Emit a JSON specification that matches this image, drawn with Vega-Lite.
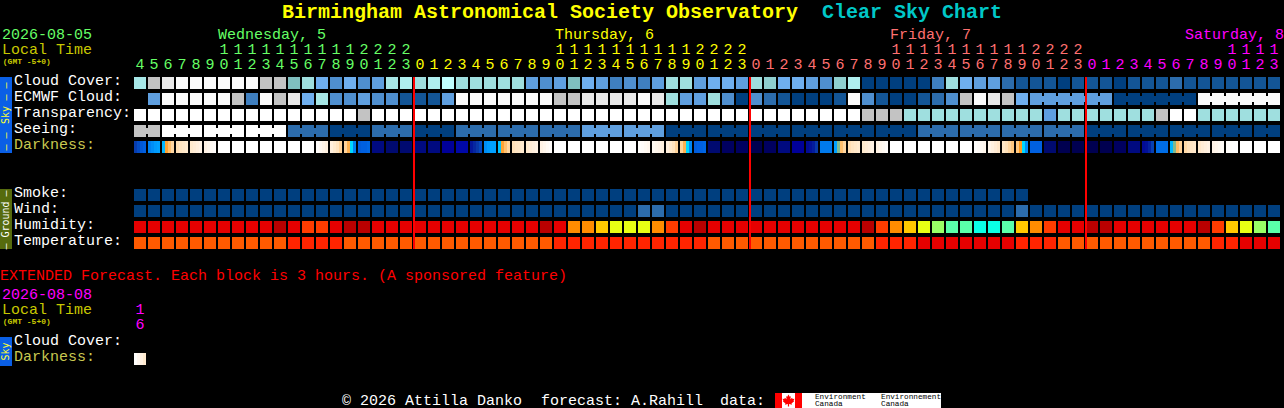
{"$schema":"https://vega.github.io/schema/vega-lite/v6.json","width":1284,"height":408,"padding":0,"autosize":{"type":"none"},"background":"#000000","config":{"view":{"stroke":null}},
"datasets":{
"bands":[{"col":-10,"col2":-9.1429,"row":-0.375,"row2":4.375,"part":"sky"},{"col":-10,"col2":-9.1429,"row":6.625,"row2":10.375,"part":"ground"},{"col":-10,"col2":-9.1429,"row":15.875,"row2":17.6875,"part":"sky"},{"col":45.357,"col2":47.286,"row":19.375,"row2":20.3125,"part":"flag"},{"col":45.857,"col2":46.786,"row":19.375,"row2":20.3125,"part":"logo"},{"col":47.286,"col2":57.214,"row":19.375,"row2":20.3125,"part":"logo"}],
"cells":[
{"row":0,"col":0,"level":"t4"},{"row":0,"col":1,"level":"g1"},{"row":0,"col":2,"level":"g2"},{"row":0,"col":3,"level":"w"},{"row":0,"col":4,"level":"w"},{"row":0,"col":5,"level":"w"},{"row":0,"col":6,"level":"w"},{"row":0,"col":7,"level":"w"},{"row":0,"col":8,"level":"w"},{"row":0,"col":9,"level":"g1"},{"row":0,"col":10,"level":"g1"},{"row":0,"col":11,"level":"t1"},{"row":0,"col":12,"level":"t3"},{"row":0,"col":13,"level":"n6"},{"row":0,"col":14,"level":"n4"},{"row":0,"col":15,"level":"n6"},{"row":0,"col":16,"level":"n4"},{"row":0,"col":17,"level":"n5"},{"row":0,"col":18,"level":"t4"},{"row":0,"col":19,"level":"t5"},{"row":0,"col":20,"level":"t3"},{"row":0,"col":21,"level":"t5"},{"row":0,"col":22,"level":"t6"},{"row":0,"col":23,"level":"t3"},{"row":0,"col":24,"level":"t3"},{"row":0,"col":25,"level":"t3"},{"row":0,"col":26,"level":"t3"},{"row":0,"col":27,"level":"t3"},{"row":0,"col":28,"level":"n5"},{"row":0,"col":29,"level":"n4"},{"row":0,"col":30,"level":"n5"},{"row":0,"col":31,"level":"t1"},{"row":0,"col":32,"level":"n6"},{"row":0,"col":33,"level":"n5"},{"row":0,"col":34,"level":"n3"},{"row":0,"col":35,"level":"n4"},{"row":0,"col":36,"level":"n3"},{"row":0,"col":37,"level":"n5"},{"row":0,"col":38,"level":"t3"},{"row":0,"col":39,"level":"t3"},{"row":0,"col":40,"level":"n5"},{"row":0,"col":41,"level":"n6"},{"row":0,"col":42,"level":"n6"},{"row":0,"col":43,"level":"n5"},{"row":0,"col":44,"level":"t3"},{"row":0,"col":45,"level":"t2"},{"row":0,"col":46,"level":"n6"},{"row":0,"col":47,"level":"n6"},{"row":0,"col":48,"level":"n5"},{"row":0,"col":49,"level":"n4"},{"row":0,"col":50,"level":"t2"},{"row":0,"col":51,"level":"t5"},{"row":0,"col":52,"level":"n0"},{"row":0,"col":53,"level":"n0"},{"row":0,"col":54,"level":"n0"},{"row":0,"col":55,"level":"n0"},{"row":0,"col":56,"level":"n0"},{"row":0,"col":57,"level":"n3"},{"row":0,"col":58,"level":"t3"},{"row":0,"col":59,"level":"n6"},{"row":0,"col":60,"level":"n5"},{"row":0,"col":61,"level":"n5"},{"row":0,"col":62,"level":"n2"},{"row":0,"col":63,"level":"n1"},{"row":0,"col":64,"level":"n1"},{"row":0,"col":65,"level":"n1"},{"row":0,"col":66,"level":"n0"},{"row":0,"col":67,"level":"n1"},{"row":0,"col":68,"level":"n1"},{"row":0,"col":69,"level":"n1"},{"row":0,"col":70,"level":"n0"},{"row":0,"col":71,"level":"n1"},{"row":0,"col":72,"level":"n1"},{"row":0,"col":73,"level":"n1"},{"row":0,"col":74,"level":"n2"},{"row":0,"col":75,"level":"n1"},{"row":0,"col":76,"level":"n1"},{"row":0,"col":77,"level":"n1"},{"row":0,"col":78,"level":"n1"},{"row":0,"col":79,"level":"n1"},{"row":0,"col":80,"level":"n1"},{"row":0,"col":81,"level":"n1"},
{"row":1,"col":1,"level":"n5"},{"row":1,"col":2,"level":"w"},{"row":1,"col":3,"level":"w"},{"row":1,"col":4,"level":"w"},{"row":1,"col":5,"level":"w"},{"row":1,"col":6,"level":"w"},{"row":1,"col":7,"level":"g1"},{"row":1,"col":8,"level":"n3"},{"row":1,"col":9,"level":"w"},{"row":1,"col":10,"level":"g1"},{"row":1,"col":11,"level":"g2"},{"row":1,"col":12,"level":"n6"},{"row":1,"col":13,"level":"t4"},{"row":1,"col":14,"level":"n4"},{"row":1,"col":15,"level":"n4"},{"row":1,"col":16,"level":"n5"},{"row":1,"col":17,"level":"n4"},{"row":1,"col":18,"level":"n4"},{"row":1,"col":19,"level":"n1"},{"row":1,"col":20,"level":"n1"},{"row":1,"col":21,"level":"n1"},{"row":1,"col":22,"level":"n5"},{"row":1,"col":23,"level":"w"},{"row":1,"col":24,"level":"w"},{"row":1,"col":25,"level":"w"},{"row":1,"col":26,"level":"w"},{"row":1,"col":27,"level":"w"},{"row":1,"col":28,"level":"w"},{"row":1,"col":29,"level":"w"},{"row":1,"col":30,"level":"g1"},{"row":1,"col":31,"level":"g1"},{"row":1,"col":32,"level":"g2"},{"row":1,"col":33,"level":"g2"},{"row":1,"col":34,"level":"g2"},{"row":1,"col":35,"level":"g2"},{"row":1,"col":36,"level":"w"},{"row":1,"col":37,"level":"g2"},{"row":1,"col":38,"level":"t3"},{"row":1,"col":39,"level":"n5"},{"row":1,"col":40,"level":"n5"},{"row":1,"col":41,"level":"t3"},{"row":1,"col":42,"level":"n4"},{"row":1,"col":43,"level":"n0"},{"row":1,"col":44,"level":"n4"},{"row":1,"col":45,"level":"n2"},{"row":1,"col":46,"level":"n1"},{"row":1,"col":47,"level":"n0"},{"row":1,"col":48,"level":"n0"},{"row":1,"col":49,"level":"n0"},{"row":1,"col":50,"level":"n1"},{"row":1,"col":51,"level":"w"},{"row":1,"col":52,"level":"n4"},{"row":1,"col":53,"level":"n1"},{"row":1,"col":54,"level":"n0"},{"row":1,"col":55,"level":"n0"},{"row":1,"col":56,"level":"n1"},{"row":1,"col":57,"level":"n2"},{"row":1,"col":58,"level":"n4"},{"row":1,"col":59,"level":"g1"},{"row":1,"col":60,"level":"w"},{"row":1,"col":61,"level":"g2"},{"row":1,"col":62,"level":"g1"},{"row":1,"col":63,"level":"n6"},{"row":1,"col":64,"level":"n5"},{"row":1,"col":65,"level":"n5"},{"row":1,"col":66,"level":"n5"},{"row":1,"col":67,"level":"n5"},{"row":1,"col":68,"level":"n5"},{"row":1,"col":69,"level":"n5"},{"row":1,"col":70,"level":"n0"},{"row":1,"col":71,"level":"n0"},{"row":1,"col":72,"level":"n0"},{"row":1,"col":73,"level":"n0"},{"row":1,"col":74,"level":"n0"},{"row":1,"col":75,"level":"n0"},{"row":1,"col":76,"level":"w"},{"row":1,"col":77,"level":"w"},{"row":1,"col":78,"level":"w"},{"row":1,"col":79,"level":"w"},{"row":1,"col":80,"level":"w"},{"row":1,"col":81,"level":"w"},
{"row":2,"col":0,"level":"W"},{"row":2,"col":1,"level":"W"},{"row":2,"col":2,"level":"W"},{"row":2,"col":3,"level":"W"},{"row":2,"col":4,"level":"W"},{"row":2,"col":5,"level":"W"},{"row":2,"col":6,"level":"W"},{"row":2,"col":7,"level":"W"},{"row":2,"col":8,"level":"W"},{"row":2,"col":9,"level":"W"},{"row":2,"col":10,"level":"W"},{"row":2,"col":11,"level":"W"},{"row":2,"col":12,"level":"W"},{"row":2,"col":13,"level":"W"},{"row":2,"col":14,"level":"W"},{"row":2,"col":15,"level":"W"},{"row":2,"col":16,"level":"g1"},{"row":2,"col":17,"level":"W"},{"row":2,"col":18,"level":"W"},{"row":2,"col":19,"level":"W"},{"row":2,"col":20,"level":"W"},{"row":2,"col":21,"level":"W"},{"row":2,"col":22,"level":"W"},{"row":2,"col":23,"level":"W"},{"row":2,"col":24,"level":"W"},{"row":2,"col":25,"level":"W"},{"row":2,"col":26,"level":"W"},{"row":2,"col":27,"level":"W"},{"row":2,"col":28,"level":"W"},{"row":2,"col":29,"level":"W"},{"row":2,"col":30,"level":"W"},{"row":2,"col":31,"level":"W"},{"row":2,"col":32,"level":"W"},{"row":2,"col":33,"level":"W"},{"row":2,"col":34,"level":"W"},{"row":2,"col":35,"level":"W"},{"row":2,"col":36,"level":"W"},{"row":2,"col":37,"level":"W"},{"row":2,"col":38,"level":"W"},{"row":2,"col":39,"level":"W"},{"row":2,"col":40,"level":"W"},{"row":2,"col":41,"level":"W"},{"row":2,"col":42,"level":"W"},{"row":2,"col":43,"level":"W"},{"row":2,"col":44,"level":"W"},{"row":2,"col":45,"level":"W"},{"row":2,"col":46,"level":"W"},{"row":2,"col":47,"level":"W"},{"row":2,"col":48,"level":"W"},{"row":2,"col":49,"level":"W"},{"row":2,"col":50,"level":"W"},{"row":2,"col":51,"level":"W"},{"row":2,"col":52,"level":"g1"},{"row":2,"col":53,"level":"g1"},{"row":2,"col":54,"level":"g1"},{"row":2,"col":55,"level":"t3"},{"row":2,"col":56,"level":"t3"},{"row":2,"col":57,"level":"t3"},{"row":2,"col":58,"level":"t3"},{"row":2,"col":59,"level":"t3"},{"row":2,"col":60,"level":"t3"},{"row":2,"col":61,"level":"t3"},{"row":2,"col":62,"level":"t3"},{"row":2,"col":63,"level":"t3"},{"row":2,"col":64,"level":"t3"},{"row":2,"col":65,"level":"n5"},{"row":2,"col":66,"level":"t3"},{"row":2,"col":67,"level":"t3"},{"row":2,"col":68,"level":"t3"},{"row":2,"col":69,"level":"t3"},{"row":2,"col":70,"level":"t3"},{"row":2,"col":71,"level":"t3"},{"row":2,"col":72,"level":"t3"},{"row":2,"col":73,"level":"g1"},{"row":2,"col":74,"level":"W"},{"row":2,"col":75,"level":"W"},{"row":2,"col":76,"level":"t3"},{"row":2,"col":77,"level":"t3"},{"row":2,"col":78,"level":"t3"},{"row":2,"col":79,"level":"t3"},{"row":2,"col":80,"level":"t3"},{"row":2,"col":81,"level":"t3"},
{"row":3,"col":0,"level":"g1"},{"row":3,"col":1,"level":"g1"},{"row":3,"col":2,"level":"W"},{"row":3,"col":3,"level":"W"},{"row":3,"col":4,"level":"W"},{"row":3,"col":5,"level":"W"},{"row":3,"col":6,"level":"W"},{"row":3,"col":7,"level":"W"},{"row":3,"col":8,"level":"W"},{"row":3,"col":9,"level":"W"},{"row":3,"col":10,"level":"W"},{"row":3,"col":11,"level":"n2"},{"row":3,"col":12,"level":"n2"},{"row":3,"col":13,"level":"n2"},{"row":3,"col":14,"level":"n0"},{"row":3,"col":15,"level":"n0"},{"row":3,"col":16,"level":"n0"},{"row":3,"col":17,"level":"n2"},{"row":3,"col":18,"level":"n2"},{"row":3,"col":19,"level":"n2"},{"row":3,"col":20,"level":"n0"},{"row":3,"col":21,"level":"n0"},{"row":3,"col":22,"level":"n0"},{"row":3,"col":23,"level":"n2"},{"row":3,"col":24,"level":"n2"},{"row":3,"col":25,"level":"n2"},{"row":3,"col":26,"level":"n2"},{"row":3,"col":27,"level":"n2"},{"row":3,"col":28,"level":"n2"},{"row":3,"col":29,"level":"n2"},{"row":3,"col":30,"level":"n2"},{"row":3,"col":31,"level":"n2"},{"row":3,"col":32,"level":"n5"},{"row":3,"col":33,"level":"n5"},{"row":3,"col":34,"level":"n5"},{"row":3,"col":35,"level":"n5"},{"row":3,"col":36,"level":"n5"},{"row":3,"col":37,"level":"n5"},{"row":3,"col":38,"level":"n0"},{"row":3,"col":39,"level":"n0"},{"row":3,"col":40,"level":"n0"},{"row":3,"col":41,"level":"n0"},{"row":3,"col":42,"level":"n0"},{"row":3,"col":43,"level":"n0"},{"row":3,"col":44,"level":"n0"},{"row":3,"col":45,"level":"n0"},{"row":3,"col":46,"level":"n0"},{"row":3,"col":47,"level":"n0"},{"row":3,"col":48,"level":"n0"},{"row":3,"col":49,"level":"n0"},{"row":3,"col":50,"level":"n0"},{"row":3,"col":51,"level":"n0"},{"row":3,"col":52,"level":"n0"},{"row":3,"col":53,"level":"n0"},{"row":3,"col":54,"level":"n0"},{"row":3,"col":55,"level":"n0"},{"row":3,"col":56,"level":"n2"},{"row":3,"col":57,"level":"n2"},{"row":3,"col":58,"level":"n2"},{"row":3,"col":59,"level":"n2"},{"row":3,"col":60,"level":"n2"},{"row":3,"col":61,"level":"n2"},{"row":3,"col":62,"level":"n2"},{"row":3,"col":63,"level":"n2"},{"row":3,"col":64,"level":"n2"},{"row":3,"col":65,"level":"n2"},{"row":3,"col":66,"level":"n2"},{"row":3,"col":67,"level":"n2"},{"row":3,"col":68,"level":"n0"},{"row":3,"col":69,"level":"n0"},{"row":3,"col":70,"level":"n0"},{"row":3,"col":71,"level":"n0"},{"row":3,"col":72,"level":"n0"},{"row":3,"col":73,"level":"n0"},{"row":3,"col":74,"level":"n0"},{"row":3,"col":75,"level":"n0"},{"row":3,"col":76,"level":"n0"},{"row":3,"col":77,"level":"n0"},{"row":3,"col":78,"level":"n0"},{"row":3,"col":79,"level":"n0"},{"row":3,"col":80,"level":"n0"},{"row":3,"col":81,"level":"n0"},
{"row":4,"col":6,"level":"W"},{"row":4,"col":7,"level":"W"},{"row":4,"col":8,"level":"W"},{"row":4,"col":9,"level":"W"},{"row":4,"col":10,"level":"W"},{"row":4,"col":11,"level":"W"},{"row":4,"col":12,"level":"W"},{"row":4,"col":17,"level":"d3"},{"row":4,"col":18,"level":"d2"},{"row":4,"col":19,"level":"d2"},{"row":4,"col":20,"level":"d3"},{"row":4,"col":21,"level":"d3"},{"row":4,"col":22,"level":"d4"},{"row":4,"col":23,"level":"d5"},{"row":4,"col":30,"level":"W"},{"row":4,"col":31,"level":"W"},{"row":4,"col":32,"level":"W"},{"row":4,"col":33,"level":"W"},{"row":4,"col":34,"level":"W"},{"row":4,"col":35,"level":"W"},{"row":4,"col":41,"level":"d2"},{"row":4,"col":42,"level":"d1"},{"row":4,"col":43,"level":"d1"},{"row":4,"col":44,"level":"d0"},{"row":4,"col":45,"level":"d1"},{"row":4,"col":46,"level":"d3"},{"row":4,"col":47,"level":"d4"},{"row":4,"col":54,"level":"W"},{"row":4,"col":55,"level":"W"},{"row":4,"col":56,"level":"W"},{"row":4,"col":57,"level":"W"},{"row":4,"col":58,"level":"W"},{"row":4,"col":59,"level":"W"},{"row":4,"col":65,"level":"d2"},{"row":4,"col":66,"level":"d0"},{"row":4,"col":67,"level":"d0"},{"row":4,"col":68,"level":"d0"},{"row":4,"col":69,"level":"d0"},{"row":4,"col":70,"level":"d1"},{"row":4,"col":71,"level":"d3"},{"row":4,"col":79,"level":"W"},{"row":4,"col":80,"level":"W"},{"row":4,"col":81,"level":"W"},
{"row":7,"col":0,"level":"n0"},{"row":7,"col":1,"level":"n0"},{"row":7,"col":2,"level":"n0"},{"row":7,"col":3,"level":"n0"},{"row":7,"col":4,"level":"n0"},{"row":7,"col":5,"level":"n0"},{"row":7,"col":6,"level":"n0"},{"row":7,"col":7,"level":"n0"},{"row":7,"col":8,"level":"n0"},{"row":7,"col":9,"level":"n0"},{"row":7,"col":10,"level":"n0"},{"row":7,"col":11,"level":"n0"},{"row":7,"col":12,"level":"n0"},{"row":7,"col":13,"level":"n0"},{"row":7,"col":14,"level":"n0"},{"row":7,"col":15,"level":"n0"},{"row":7,"col":16,"level":"n0"},{"row":7,"col":17,"level":"n0"},{"row":7,"col":18,"level":"n0"},{"row":7,"col":19,"level":"n0"},{"row":7,"col":20,"level":"n0"},{"row":7,"col":21,"level":"n0"},{"row":7,"col":22,"level":"n0"},{"row":7,"col":23,"level":"n0"},{"row":7,"col":24,"level":"n0"},{"row":7,"col":25,"level":"n0"},{"row":7,"col":26,"level":"n0"},{"row":7,"col":27,"level":"n0"},{"row":7,"col":28,"level":"n0"},{"row":7,"col":29,"level":"n0"},{"row":7,"col":30,"level":"n0"},{"row":7,"col":31,"level":"n0"},{"row":7,"col":32,"level":"n0"},{"row":7,"col":33,"level":"n0"},{"row":7,"col":34,"level":"n0"},{"row":7,"col":35,"level":"n0"},{"row":7,"col":36,"level":"n0"},{"row":7,"col":37,"level":"n0"},{"row":7,"col":38,"level":"n0"},{"row":7,"col":39,"level":"n0"},{"row":7,"col":40,"level":"n0"},{"row":7,"col":41,"level":"n0"},{"row":7,"col":42,"level":"n0"},{"row":7,"col":43,"level":"n0"},{"row":7,"col":44,"level":"n0"},{"row":7,"col":45,"level":"n0"},{"row":7,"col":46,"level":"n0"},{"row":7,"col":47,"level":"n0"},{"row":7,"col":48,"level":"n0"},{"row":7,"col":49,"level":"n0"},{"row":7,"col":50,"level":"n0"},{"row":7,"col":51,"level":"n0"},{"row":7,"col":52,"level":"n0"},{"row":7,"col":53,"level":"n0"},{"row":7,"col":54,"level":"n0"},{"row":7,"col":55,"level":"n0"},{"row":7,"col":56,"level":"n0"},{"row":7,"col":57,"level":"n0"},{"row":7,"col":58,"level":"n0"},{"row":7,"col":59,"level":"n0"},{"row":7,"col":60,"level":"n0"},{"row":7,"col":61,"level":"n0"},{"row":7,"col":62,"level":"n0"},{"row":7,"col":63,"level":"n0"},
{"row":8,"col":0,"level":"n0"},{"row":8,"col":1,"level":"n0"},{"row":8,"col":2,"level":"n0"},{"row":8,"col":3,"level":"n0"},{"row":8,"col":4,"level":"n0"},{"row":8,"col":5,"level":"n0"},{"row":8,"col":6,"level":"n0"},{"row":8,"col":7,"level":"n0"},{"row":8,"col":8,"level":"n0"},{"row":8,"col":9,"level":"n0"},{"row":8,"col":10,"level":"n0"},{"row":8,"col":11,"level":"n0"},{"row":8,"col":12,"level":"n0"},{"row":8,"col":13,"level":"n0"},{"row":8,"col":14,"level":"n0"},{"row":8,"col":15,"level":"n0"},{"row":8,"col":16,"level":"n0"},{"row":8,"col":17,"level":"n0"},{"row":8,"col":18,"level":"n0"},{"row":8,"col":19,"level":"n0"},{"row":8,"col":20,"level":"n0"},{"row":8,"col":21,"level":"n0"},{"row":8,"col":22,"level":"n0"},{"row":8,"col":23,"level":"n0"},{"row":8,"col":24,"level":"n0"},{"row":8,"col":25,"level":"n0"},{"row":8,"col":26,"level":"n0"},{"row":8,"col":27,"level":"n0"},{"row":8,"col":28,"level":"n0"},{"row":8,"col":29,"level":"n0"},{"row":8,"col":30,"level":"n0"},{"row":8,"col":31,"level":"n0"},{"row":8,"col":32,"level":"n0"},{"row":8,"col":33,"level":"n0"},{"row":8,"col":34,"level":"n0"},{"row":8,"col":35,"level":"n0"},{"row":8,"col":36,"level":"n2"},{"row":8,"col":37,"level":"n2"},{"row":8,"col":38,"level":"n0"},{"row":8,"col":39,"level":"n0"},{"row":8,"col":40,"level":"n0"},{"row":8,"col":41,"level":"n0"},{"row":8,"col":42,"level":"n0"},{"row":8,"col":43,"level":"n0"},{"row":8,"col":44,"level":"n0"},{"row":8,"col":45,"level":"n0"},{"row":8,"col":46,"level":"n0"},{"row":8,"col":47,"level":"n0"},{"row":8,"col":48,"level":"n0"},{"row":8,"col":49,"level":"n0"},{"row":8,"col":50,"level":"n0"},{"row":8,"col":51,"level":"n0"},{"row":8,"col":52,"level":"n0"},{"row":8,"col":53,"level":"n0"},{"row":8,"col":54,"level":"n0"},{"row":8,"col":55,"level":"n0"},{"row":8,"col":56,"level":"n0"},{"row":8,"col":57,"level":"n0"},{"row":8,"col":58,"level":"n0"},{"row":8,"col":59,"level":"n0"},{"row":8,"col":60,"level":"n0"},{"row":8,"col":61,"level":"n0"},{"row":8,"col":62,"level":"n0"},{"row":8,"col":63,"level":"n2"},{"row":8,"col":64,"level":"n0"},{"row":8,"col":65,"level":"n0"},{"row":8,"col":66,"level":"n0"},{"row":8,"col":67,"level":"n0"},{"row":8,"col":68,"level":"n0"},{"row":8,"col":69,"level":"n0"},{"row":8,"col":70,"level":"n0"},{"row":8,"col":71,"level":"n0"},{"row":8,"col":72,"level":"n0"},{"row":8,"col":73,"level":"n0"},{"row":8,"col":74,"level":"n0"},{"row":8,"col":75,"level":"n0"},{"row":8,"col":76,"level":"n0"},{"row":8,"col":77,"level":"n0"},{"row":8,"col":78,"level":"n0"},{"row":8,"col":79,"level":"n0"},{"row":8,"col":80,"level":"n0"},{"row":8,"col":81,"level":"n0"},
{"row":9,"col":0,"level":"r2"},{"row":9,"col":1,"level":"r2"},{"row":9,"col":2,"level":"r2"},{"row":9,"col":3,"level":"r2"},{"row":9,"col":4,"level":"r2"},{"row":9,"col":5,"level":"r2"},{"row":9,"col":6,"level":"r2"},{"row":9,"col":7,"level":"r2"},{"row":9,"col":8,"level":"r2"},{"row":9,"col":9,"level":"r2"},{"row":9,"col":10,"level":"r1"},{"row":9,"col":11,"level":"r2"},{"row":9,"col":12,"level":"r4"},{"row":9,"col":13,"level":"r4"},{"row":9,"col":14,"level":"r2"},{"row":9,"col":15,"level":"r1"},{"row":9,"col":16,"level":"r1"},{"row":9,"col":17,"level":"r2"},{"row":9,"col":18,"level":"r2"},{"row":9,"col":19,"level":"r2"},{"row":9,"col":20,"level":"r2"},{"row":9,"col":21,"level":"r2"},{"row":9,"col":22,"level":"r2"},{"row":9,"col":23,"level":"r2"},{"row":9,"col":24,"level":"r2"},{"row":9,"col":25,"level":"r2"},{"row":9,"col":26,"level":"r2"},{"row":9,"col":27,"level":"r2"},{"row":9,"col":28,"level":"r2"},{"row":9,"col":29,"level":"r1"},{"row":9,"col":30,"level":"r2"},{"row":9,"col":31,"level":"r6"},{"row":9,"col":32,"level":"r6"},{"row":9,"col":33,"level":"y1"},{"row":9,"col":34,"level":"y2"},{"row":9,"col":35,"level":"y2"},{"row":9,"col":36,"level":"y2"},{"row":9,"col":37,"level":"r6"},{"row":9,"col":38,"level":"r4"},{"row":9,"col":39,"level":"r2"},{"row":9,"col":40,"level":"r1"},{"row":9,"col":41,"level":"r2"},{"row":9,"col":42,"level":"r2"},{"row":9,"col":43,"level":"r2"},{"row":9,"col":44,"level":"r2"},{"row":9,"col":45,"level":"r2"},{"row":9,"col":46,"level":"r2"},{"row":9,"col":47,"level":"r2"},{"row":9,"col":48,"level":"r2"},{"row":9,"col":49,"level":"r2"},{"row":9,"col":50,"level":"r2"},{"row":9,"col":51,"level":"r2"},{"row":9,"col":52,"level":"r1"},{"row":9,"col":53,"level":"r4"},{"row":9,"col":54,"level":"r6"},{"row":9,"col":55,"level":"y1"},{"row":9,"col":56,"level":"y2"},{"row":9,"col":57,"level":"g3"},{"row":9,"col":58,"level":"g4"},{"row":9,"col":59,"level":"g4"},{"row":9,"col":60,"level":"c1"},{"row":9,"col":61,"level":"c1"},{"row":9,"col":62,"level":"g4"},{"row":9,"col":63,"level":"y1"},{"row":9,"col":64,"level":"r6"},{"row":9,"col":65,"level":"r4"},{"row":9,"col":66,"level":"r2"},{"row":9,"col":67,"level":"r2"},{"row":9,"col":68,"level":"r1"},{"row":9,"col":69,"level":"r1"},{"row":9,"col":70,"level":"r2"},{"row":9,"col":71,"level":"r2"},{"row":9,"col":72,"level":"r2"},{"row":9,"col":73,"level":"r2"},{"row":9,"col":74,"level":"r2"},{"row":9,"col":75,"level":"r2"},{"row":9,"col":76,"level":"r1"},{"row":9,"col":77,"level":"r4"},{"row":9,"col":78,"level":"y1"},{"row":9,"col":79,"level":"y2"},{"row":9,"col":80,"level":"g3"},{"row":9,"col":81,"level":"g4"},
{"row":10,"col":0,"level":"r5"},{"row":10,"col":1,"level":"r5"},{"row":10,"col":2,"level":"r5"},{"row":10,"col":3,"level":"r5"},{"row":10,"col":4,"level":"r5"},{"row":10,"col":5,"level":"r5"},{"row":10,"col":6,"level":"r5"},{"row":10,"col":7,"level":"r5"},{"row":10,"col":8,"level":"r5"},{"row":10,"col":9,"level":"r5"},{"row":10,"col":10,"level":"r5"},{"row":10,"col":11,"level":"r3"},{"row":10,"col":12,"level":"r3"},{"row":10,"col":13,"level":"r3"},{"row":10,"col":14,"level":"r3"},{"row":10,"col":15,"level":"r5"},{"row":10,"col":16,"level":"r5"},{"row":10,"col":17,"level":"r5"},{"row":10,"col":18,"level":"r5"},{"row":10,"col":19,"level":"r5"},{"row":10,"col":20,"level":"r5"},{"row":10,"col":21,"level":"r5"},{"row":10,"col":22,"level":"r5"},{"row":10,"col":23,"level":"r5"},{"row":10,"col":24,"level":"r5"},{"row":10,"col":25,"level":"r5"},{"row":10,"col":26,"level":"r5"},{"row":10,"col":27,"level":"r5"},{"row":10,"col":28,"level":"r5"},{"row":10,"col":29,"level":"r5"},{"row":10,"col":30,"level":"r3"},{"row":10,"col":31,"level":"r3"},{"row":10,"col":32,"level":"r3"},{"row":10,"col":33,"level":"r3"},{"row":10,"col":34,"level":"r3"},{"row":10,"col":35,"level":"r3"},{"row":10,"col":36,"level":"r3"},{"row":10,"col":37,"level":"r3"},{"row":10,"col":38,"level":"r3"},{"row":10,"col":39,"level":"r3"},{"row":10,"col":40,"level":"r3"},{"row":10,"col":41,"level":"r5"},{"row":10,"col":42,"level":"r5"},{"row":10,"col":43,"level":"r5"},{"row":10,"col":44,"level":"r5"},{"row":10,"col":45,"level":"r5"},{"row":10,"col":46,"level":"r5"},{"row":10,"col":47,"level":"r5"},{"row":10,"col":48,"level":"r5"},{"row":10,"col":49,"level":"r5"},{"row":10,"col":50,"level":"r5"},{"row":10,"col":51,"level":"r5"},{"row":10,"col":52,"level":"r5"},{"row":10,"col":53,"level":"r3"},{"row":10,"col":54,"level":"r3"},{"row":10,"col":55,"level":"r3"},{"row":10,"col":56,"level":"r2"},{"row":10,"col":57,"level":"r2"},{"row":10,"col":58,"level":"r2"},{"row":10,"col":59,"level":"r2"},{"row":10,"col":60,"level":"r2"},{"row":10,"col":61,"level":"r2"},{"row":10,"col":62,"level":"r2"},{"row":10,"col":63,"level":"r3"},{"row":10,"col":64,"level":"r3"},{"row":10,"col":65,"level":"r3"},{"row":10,"col":66,"level":"r5"},{"row":10,"col":67,"level":"r5"},{"row":10,"col":68,"level":"r5"},{"row":10,"col":69,"level":"r5"},{"row":10,"col":70,"level":"r5"},{"row":10,"col":71,"level":"r5"},{"row":10,"col":72,"level":"r5"},{"row":10,"col":73,"level":"r5"},{"row":10,"col":74,"level":"r5"},{"row":10,"col":75,"level":"r5"},{"row":10,"col":76,"level":"r5"},{"row":10,"col":77,"level":"r3"},{"row":10,"col":78,"level":"r3"},{"row":10,"col":79,"level":"r2"},{"row":10,"col":80,"level":"r2"},{"row":10,"col":81,"level":"r2"}],
"links":[{"row":1,"col":64.5,"level":"n5"},{"row":1,"col":65.5,"level":"n5"},{"row":1,"col":66.5,"level":"n5"},{"row":1,"col":67.5,"level":"n5"},{"row":1,"col":68.5,"level":"n5"},{"row":1,"col":70.5,"level":"n0"},{"row":1,"col":71.5,"level":"n0"},{"row":1,"col":72.5,"level":"n0"},{"row":1,"col":73.5,"level":"n0"},{"row":1,"col":74.5,"level":"n0"},{"row":1,"col":76.5,"level":"w"},{"row":1,"col":77.5,"level":"w"},{"row":1,"col":78.5,"level":"w"},{"row":1,"col":79.5,"level":"w"},{"row":1,"col":80.5,"level":"w"},
{"row":3,"col":0.5,"level":"g1"},{"row":3,"col":2.5,"level":"W"},{"row":3,"col":3.5,"level":"W"},{"row":3,"col":5.5,"level":"W"},{"row":3,"col":6.5,"level":"W"},{"row":3,"col":8.5,"level":"W"},{"row":3,"col":9.5,"level":"W"},{"row":3,"col":11.5,"level":"n2"},{"row":3,"col":12.5,"level":"n2"},{"row":3,"col":14.5,"level":"n0"},{"row":3,"col":15.5,"level":"n0"},{"row":3,"col":17.5,"level":"n2"},{"row":3,"col":18.5,"level":"n2"},{"row":3,"col":20.5,"level":"n0"},{"row":3,"col":21.5,"level":"n0"},{"row":3,"col":23.5,"level":"n2"},{"row":3,"col":24.5,"level":"n2"},{"row":3,"col":26.5,"level":"n2"},{"row":3,"col":27.5,"level":"n2"},{"row":3,"col":29.5,"level":"n2"},{"row":3,"col":30.5,"level":"n2"},{"row":3,"col":32.5,"level":"n5"},{"row":3,"col":33.5,"level":"n5"},{"row":3,"col":35.5,"level":"n5"},{"row":3,"col":36.5,"level":"n5"},{"row":3,"col":38.5,"level":"n0"},{"row":3,"col":39.5,"level":"n0"},{"row":3,"col":41.5,"level":"n0"},{"row":3,"col":42.5,"level":"n0"},{"row":3,"col":44.5,"level":"n0"},{"row":3,"col":45.5,"level":"n0"},{"row":3,"col":47.5,"level":"n0"},{"row":3,"col":48.5,"level":"n0"},{"row":3,"col":50.5,"level":"n0"},{"row":3,"col":51.5,"level":"n0"},{"row":3,"col":53.5,"level":"n0"},{"row":3,"col":54.5,"level":"n0"},{"row":3,"col":56.5,"level":"n2"},{"row":3,"col":57.5,"level":"n2"},{"row":3,"col":59.5,"level":"n2"},{"row":3,"col":60.5,"level":"n2"},{"row":3,"col":62.5,"level":"n2"},{"row":3,"col":63.5,"level":"n2"},{"row":3,"col":65.5,"level":"n2"},{"row":3,"col":66.5,"level":"n2"},{"row":3,"col":68.5,"level":"n0"},{"row":3,"col":69.5,"level":"n0"},{"row":3,"col":71.5,"level":"n0"},{"row":3,"col":72.5,"level":"n0"},{"row":3,"col":74.5,"level":"n0"},{"row":3,"col":75.5,"level":"n0"},{"row":3,"col":77.5,"level":"n0"},{"row":3,"col":78.5,"level":"n0"},{"row":3,"col":80.5,"level":"n0"}],
"twilight":[
{"row":4,"col":-0.3214,"dark":7.9},{"row":4,"col":-0.1071,"dark":7.5},{"row":4,"col":0.1071,"dark":7.2},{"row":4,"col":0.3214,"dark":7},
{"row":4,"col":0.6786,"dark":6.5},{"row":4,"col":0.8929,"dark":6.3},{"row":4,"col":1.1071,"dark":6.1},{"row":4,"col":1.3214,"dark":6},
{"row":4,"col":1.6786,"dark":5.6},{"row":4,"col":1.8929,"dark":3.8},{"row":4,"col":2.1071,"dark":3.2},{"row":4,"col":2.3214,"dark":2.5},
{"row":4,"col":2.6786,"dark":2.2},{"row":4,"col":2.8929,"dark":2},{"row":4,"col":3.1071,"dark":1.8},{"row":4,"col":3.3214,"dark":1.6},
{"row":4,"col":3.6786,"dark":1.6},{"row":4,"col":3.8929,"dark":1.4},{"row":4,"col":4.1071,"dark":1.2},{"row":4,"col":4.3214,"dark":1},
{"row":4,"col":4.6786,"dark":1},{"row":4,"col":4.8929,"dark":0.7},{"row":4,"col":5.1071,"dark":0.4},{"row":4,"col":5.3214,"dark":0.2},
{"row":4,"col":12.6786,"dark":0.2},{"row":4,"col":12.8929,"dark":0.5},{"row":4,"col":13.1071,"dark":0.8},{"row":4,"col":13.3214,"dark":1.1},
{"row":4,"col":13.6786,"dark":1.2},{"row":4,"col":13.8929,"dark":1.6},{"row":4,"col":14.1071,"dark":2},{"row":4,"col":14.3214,"dark":2.6},
{"row":4,"col":14.6786,"dark":2.6},{"row":4,"col":14.8929,"dark":3.5},{"row":4,"col":15.1071,"dark":5},{"row":4,"col":15.3214,"dark":6.5},
{"row":4,"col":15.6786,"dark":7.1},{"row":4,"col":15.8929,"dark":7},{"row":4,"col":16.1071,"dark":7},{"row":4,"col":16.3214,"dark":6.9},
{"row":4,"col":23.6786,"dark":8.6},{"row":4,"col":23.8929,"dark":8.3},{"row":4,"col":24.1071,"dark":8},{"row":4,"col":24.3214,"dark":7.6},
{"row":4,"col":24.6786,"dark":6.3},{"row":4,"col":24.8929,"dark":6.1},{"row":4,"col":25.1071,"dark":6},{"row":4,"col":25.3214,"dark":6},
{"row":4,"col":25.6786,"dark":5.4},{"row":4,"col":25.8929,"dark":3.8},{"row":4,"col":26.1071,"dark":3.2},{"row":4,"col":26.3214,"dark":2.5},
{"row":4,"col":26.6786,"dark":2.1},{"row":4,"col":26.8929,"dark":1.9},{"row":4,"col":27.1071,"dark":1.8},{"row":4,"col":27.3214,"dark":1.6},
{"row":4,"col":27.6786,"dark":1.6},{"row":4,"col":27.8929,"dark":1.4},{"row":4,"col":28.1071,"dark":1.2},{"row":4,"col":28.3214,"dark":1},
{"row":4,"col":28.6786,"dark":1},{"row":4,"col":28.8929,"dark":0.7},{"row":4,"col":29.1071,"dark":0.4},{"row":4,"col":29.3214,"dark":0.2},
{"row":4,"col":35.6786,"dark":0.1},{"row":4,"col":35.8929,"dark":0.2},{"row":4,"col":36.1071,"dark":0.4},{"row":4,"col":36.3214,"dark":0.6},
{"row":4,"col":36.6786,"dark":0.5},{"row":4,"col":36.8929,"dark":0.7},{"row":4,"col":37.1071,"dark":0.9},{"row":4,"col":37.3214,"dark":1.1},
{"row":4,"col":37.6786,"dark":1.2},{"row":4,"col":37.8929,"dark":1.6},{"row":4,"col":38.1071,"dark":2},{"row":4,"col":38.3214,"dark":2.6},
{"row":4,"col":38.6786,"dark":2.6},{"row":4,"col":38.8929,"dark":3.5},{"row":4,"col":39.1071,"dark":5},{"row":4,"col":39.3214,"dark":6.4},
{"row":4,"col":39.6786,"dark":7.1},{"row":4,"col":39.8929,"dark":7},{"row":4,"col":40.1071,"dark":7},{"row":4,"col":40.3214,"dark":6.9},
{"row":4,"col":47.6786,"dark":8.8},{"row":4,"col":47.8929,"dark":8.7},{"row":4,"col":48.1071,"dark":8.5},{"row":4,"col":48.3214,"dark":8},
{"row":4,"col":48.6786,"dark":6.6},{"row":4,"col":48.8929,"dark":6.6},{"row":4,"col":49.1071,"dark":6.6},{"row":4,"col":49.3214,"dark":6.6},
{"row":4,"col":49.6786,"dark":6},{"row":4,"col":49.8929,"dark":4.5},{"row":4,"col":50.1071,"dark":3.2},{"row":4,"col":50.3214,"dark":2.5},
{"row":4,"col":50.6786,"dark":2.2},{"row":4,"col":50.8929,"dark":2},{"row":4,"col":51.1071,"dark":1.8},{"row":4,"col":51.3214,"dark":1.6},
{"row":4,"col":51.6786,"dark":1.6},{"row":4,"col":51.8929,"dark":1.4},{"row":4,"col":52.1071,"dark":1.2},{"row":4,"col":52.3214,"dark":1},
{"row":4,"col":52.6786,"dark":1},{"row":4,"col":52.8929,"dark":0.7},{"row":4,"col":53.1071,"dark":0.5},{"row":4,"col":53.3214,"dark":0.2},
{"row":4,"col":59.6786,"dark":0.1},{"row":4,"col":59.8929,"dark":0.3},{"row":4,"col":60.1071,"dark":0.5},{"row":4,"col":60.3214,"dark":0.7},
{"row":4,"col":60.6786,"dark":0.8},{"row":4,"col":60.8929,"dark":1.1},{"row":4,"col":61.1071,"dark":1.4},{"row":4,"col":61.3214,"dark":1.7},
{"row":4,"col":61.6786,"dark":1.8},{"row":4,"col":61.8929,"dark":2.1},{"row":4,"col":62.1071,"dark":2.5},{"row":4,"col":62.3214,"dark":3},
{"row":4,"col":62.6786,"dark":3},{"row":4,"col":62.8929,"dark":4},{"row":4,"col":63.1071,"dark":5},{"row":4,"col":63.3214,"dark":6.3},
{"row":4,"col":63.6786,"dark":7},{"row":4,"col":63.8929,"dark":7},{"row":4,"col":64.1071,"dark":7},{"row":4,"col":64.3214,"dark":7},
{"row":4,"col":71.6786,"dark":8.8},{"row":4,"col":71.8929,"dark":8.7},{"row":4,"col":72.1071,"dark":8.4},{"row":4,"col":72.3214,"dark":7.8},
{"row":4,"col":72.6786,"dark":6.8},{"row":4,"col":72.8929,"dark":6.8},{"row":4,"col":73.1071,"dark":6.8},{"row":4,"col":73.3214,"dark":6.8},
{"row":4,"col":73.6786,"dark":5.6},{"row":4,"col":73.8929,"dark":4.5},{"row":4,"col":74.1071,"dark":3.3},{"row":4,"col":74.3214,"dark":2.7},
{"row":4,"col":74.6786,"dark":2.4},{"row":4,"col":74.8929,"dark":2.1},{"row":4,"col":75.1071,"dark":1.9},{"row":4,"col":75.3214,"dark":1.7},
{"row":4,"col":75.6786,"dark":1.7},{"row":4,"col":75.8929,"dark":1.4},{"row":4,"col":76.1071,"dark":1.2},{"row":4,"col":76.3214,"dark":1},
{"row":4,"col":76.6786,"dark":0.9},{"row":4,"col":76.8929,"dark":0.7},{"row":4,"col":77.1071,"dark":0.5},{"row":4,"col":77.3214,"dark":0.3},
{"row":4,"col":77.6786,"dark":0.2},{"row":4,"col":77.8929,"dark":0.1},{"row":4,"col":78.1071,"dark":0},{"row":4,"col":78.3214,"dark":0},
{"row":17.25,"col":-0.3214,"dark":0.1},{"row":17.25,"col":-0.1071,"dark":0.6},{"row":17.25,"col":0.1071,"dark":1.1},{"row":17.25,"col":0.3214,"dark":1.6}],
"midnights":[{"col":19.5714,"row":-0.375,"row2":10.375},{"col":43.5714,"row":-0.375,"row2":10.375},{"col":67.5714,"row":-0.375,"row2":10.375}],
"labels":[
{"text":"2026-08-05","col":-9.857,"row":-3,"tone":"wed"},{"text":"Wednesday, 5","col":5.571,"row":-3,"tone":"wed"},{"text":"Thursday, 6","col":29.64,"row":-3,"tone":"thu"},{"text":"Friday, 7","col":53.57,"row":-3,"tone":"fri"},{"text":"Saturday, 8","col":74.64,"row":-3,"tone":"sat"},
{"text":"Local Time","col":-9.857,"row":-2.0625,"tone":"local"},
{"text":"Cloud Cover:","col":-9,"row":-0.1,"tone":"white"},{"text":"ECMWF Cloud:","col":-9,"row":0.9,"tone":"white"},{"text":"Transparency:","col":-9,"row":1.9,"tone":"white"},{"text":"Seeing:","col":-9,"row":2.9,"tone":"white"},{"text":"Darkness:","col":-9,"row":3.9,"tone":"dark"},
{"text":"Smoke:","col":-9,"row":6.9,"tone":"white"},{"text":"Wind:","col":-9,"row":7.9,"tone":"white"},{"text":"Humidity:","col":-9,"row":8.9,"tone":"white"},{"text":"Temperature:","col":-9,"row":9.9,"tone":"white"},
{"text":"EXTENDED Forecast. Each block is 3 hours. (A sponsored feature)","col":-10,"row":12.06,"tone":"red"},
{"text":"2026-08-08","col":-9.857,"row":13.25,"tone":"sat"},{"text":"Local Time","col":-9.857,"row":14.19,"tone":"local"},
{"text":"Cloud Cover:","col":-9,"row":16.125,"tone":"white"},{"text":"Darkness:","col":-9,"row":17.125,"tone":"dark"},
{"text":"© 2026 Attilla Danko","col":14.43,"row":19.87,"tone":"white"},{"text":"forecast: A.Rahill","col":28.64,"row":19.87,"tone":"white"},{"text":"data:","col":41.43,"row":19.87,"tone":"white"}],
"hours":[
{"text":"4","col":0,"row":-1.125,"tone":"wed"},{"text":"5","col":1,"row":-1.125,"tone":"wed"},{"text":"6","col":2,"row":-1.125,"tone":"wed"},{"text":"7","col":3,"row":-1.125,"tone":"wed"},{"text":"8","col":4,"row":-1.125,"tone":"wed"},{"text":"9","col":5,"row":-1.125,"tone":"wed"},{"text":"0","col":6,"row":-1.125,"tone":"wed"},{"text":"1","col":7,"row":-1.125,"tone":"wed"},{"text":"2","col":8,"row":-1.125,"tone":"wed"},{"text":"3","col":9,"row":-1.125,"tone":"wed"},{"text":"4","col":10,"row":-1.125,"tone":"wed"},{"text":"5","col":11,"row":-1.125,"tone":"wed"},{"text":"6","col":12,"row":-1.125,"tone":"wed"},{"text":"7","col":13,"row":-1.125,"tone":"wed"},{"text":"8","col":14,"row":-1.125,"tone":"wed"},{"text":"9","col":15,"row":-1.125,"tone":"wed"},{"text":"0","col":16,"row":-1.125,"tone":"wed"},{"text":"1","col":17,"row":-1.125,"tone":"wed"},{"text":"2","col":18,"row":-1.125,"tone":"wed"},{"text":"3","col":19,"row":-1.125,"tone":"wed"},
{"text":"0","col":20,"row":-1.125,"tone":"thu"},{"text":"1","col":21,"row":-1.125,"tone":"thu"},{"text":"2","col":22,"row":-1.125,"tone":"thu"},{"text":"3","col":23,"row":-1.125,"tone":"thu"},{"text":"4","col":24,"row":-1.125,"tone":"thu"},{"text":"5","col":25,"row":-1.125,"tone":"thu"},{"text":"6","col":26,"row":-1.125,"tone":"thu"},{"text":"7","col":27,"row":-1.125,"tone":"thu"},{"text":"8","col":28,"row":-1.125,"tone":"thu"},{"text":"9","col":29,"row":-1.125,"tone":"thu"},{"text":"0","col":30,"row":-1.125,"tone":"thu"},{"text":"1","col":31,"row":-1.125,"tone":"thu"},{"text":"2","col":32,"row":-1.125,"tone":"thu"},{"text":"3","col":33,"row":-1.125,"tone":"thu"},{"text":"4","col":34,"row":-1.125,"tone":"thu"},{"text":"5","col":35,"row":-1.125,"tone":"thu"},{"text":"6","col":36,"row":-1.125,"tone":"thu"},{"text":"7","col":37,"row":-1.125,"tone":"thu"},{"text":"8","col":38,"row":-1.125,"tone":"thu"},{"text":"9","col":39,"row":-1.125,"tone":"thu"},{"text":"0","col":40,"row":-1.125,"tone":"thu"},{"text":"1","col":41,"row":-1.125,"tone":"thu"},{"text":"2","col":42,"row":-1.125,"tone":"thu"},{"text":"3","col":43,"row":-1.125,"tone":"thu"},
{"text":"0","col":44,"row":-1.125,"tone":"fri"},{"text":"1","col":45,"row":-1.125,"tone":"fri"},{"text":"2","col":46,"row":-1.125,"tone":"fri"},{"text":"3","col":47,"row":-1.125,"tone":"fri"},{"text":"4","col":48,"row":-1.125,"tone":"fri"},{"text":"5","col":49,"row":-1.125,"tone":"fri"},{"text":"6","col":50,"row":-1.125,"tone":"fri"},{"text":"7","col":51,"row":-1.125,"tone":"fri"},{"text":"8","col":52,"row":-1.125,"tone":"fri"},{"text":"9","col":53,"row":-1.125,"tone":"fri"},{"text":"0","col":54,"row":-1.125,"tone":"fri"},{"text":"1","col":55,"row":-1.125,"tone":"fri"},{"text":"2","col":56,"row":-1.125,"tone":"fri"},{"text":"3","col":57,"row":-1.125,"tone":"fri"},{"text":"4","col":58,"row":-1.125,"tone":"fri"},{"text":"5","col":59,"row":-1.125,"tone":"fri"},{"text":"6","col":60,"row":-1.125,"tone":"fri"},{"text":"7","col":61,"row":-1.125,"tone":"fri"},{"text":"8","col":62,"row":-1.125,"tone":"fri"},{"text":"9","col":63,"row":-1.125,"tone":"fri"},{"text":"0","col":64,"row":-1.125,"tone":"fri"},{"text":"1","col":65,"row":-1.125,"tone":"fri"},{"text":"2","col":66,"row":-1.125,"tone":"fri"},{"text":"3","col":67,"row":-1.125,"tone":"fri"},
{"text":"0","col":68,"row":-1.125,"tone":"sat"},{"text":"1","col":69,"row":-1.125,"tone":"sat"},{"text":"2","col":70,"row":-1.125,"tone":"sat"},{"text":"3","col":71,"row":-1.125,"tone":"sat"},{"text":"4","col":72,"row":-1.125,"tone":"sat"},{"text":"5","col":73,"row":-1.125,"tone":"sat"},{"text":"6","col":74,"row":-1.125,"tone":"sat"},{"text":"7","col":75,"row":-1.125,"tone":"sat"},{"text":"8","col":76,"row":-1.125,"tone":"sat"},{"text":"9","col":77,"row":-1.125,"tone":"sat"},{"text":"0","col":78,"row":-1.125,"tone":"sat"},{"text":"1","col":79,"row":-1.125,"tone":"sat"},{"text":"2","col":80,"row":-1.125,"tone":"sat"},{"text":"3","col":81,"row":-1.125,"tone":"sat"},
{"text":"1","col":6,"row":-2.0625,"tone":"wed"},{"text":"1","col":7,"row":-2.0625,"tone":"wed"},{"text":"1","col":8,"row":-2.0625,"tone":"wed"},{"text":"1","col":9,"row":-2.0625,"tone":"wed"},{"text":"1","col":10,"row":-2.0625,"tone":"wed"},{"text":"1","col":11,"row":-2.0625,"tone":"wed"},{"text":"1","col":12,"row":-2.0625,"tone":"wed"},{"text":"1","col":13,"row":-2.0625,"tone":"wed"},{"text":"1","col":14,"row":-2.0625,"tone":"wed"},{"text":"1","col":15,"row":-2.0625,"tone":"wed"},{"text":"2","col":16,"row":-2.0625,"tone":"wed"},{"text":"2","col":17,"row":-2.0625,"tone":"wed"},{"text":"2","col":18,"row":-2.0625,"tone":"wed"},{"text":"2","col":19,"row":-2.0625,"tone":"wed"},
{"text":"1","col":30,"row":-2.0625,"tone":"thu"},{"text":"1","col":31,"row":-2.0625,"tone":"thu"},{"text":"1","col":32,"row":-2.0625,"tone":"thu"},{"text":"1","col":33,"row":-2.0625,"tone":"thu"},{"text":"1","col":34,"row":-2.0625,"tone":"thu"},{"text":"1","col":35,"row":-2.0625,"tone":"thu"},{"text":"1","col":36,"row":-2.0625,"tone":"thu"},{"text":"1","col":37,"row":-2.0625,"tone":"thu"},{"text":"1","col":38,"row":-2.0625,"tone":"thu"},{"text":"1","col":39,"row":-2.0625,"tone":"thu"},{"text":"2","col":40,"row":-2.0625,"tone":"thu"},{"text":"2","col":41,"row":-2.0625,"tone":"thu"},{"text":"2","col":42,"row":-2.0625,"tone":"thu"},{"text":"2","col":43,"row":-2.0625,"tone":"thu"},
{"text":"1","col":54,"row":-2.0625,"tone":"fri"},{"text":"1","col":55,"row":-2.0625,"tone":"fri"},{"text":"1","col":56,"row":-2.0625,"tone":"fri"},{"text":"1","col":57,"row":-2.0625,"tone":"fri"},{"text":"1","col":58,"row":-2.0625,"tone":"fri"},{"text":"1","col":59,"row":-2.0625,"tone":"fri"},{"text":"1","col":60,"row":-2.0625,"tone":"fri"},{"text":"1","col":61,"row":-2.0625,"tone":"fri"},{"text":"1","col":62,"row":-2.0625,"tone":"fri"},{"text":"1","col":63,"row":-2.0625,"tone":"fri"},{"text":"2","col":64,"row":-2.0625,"tone":"fri"},{"text":"2","col":65,"row":-2.0625,"tone":"fri"},{"text":"2","col":66,"row":-2.0625,"tone":"fri"},{"text":"2","col":67,"row":-2.0625,"tone":"fri"},
{"text":"1","col":78,"row":-2.0625,"tone":"sat"},{"text":"1","col":79,"row":-2.0625,"tone":"sat"},{"text":"1","col":80,"row":-2.0625,"tone":"sat"},{"text":"1","col":81,"row":-2.0625,"tone":"sat"},
{"text":"1","col":0,"row":14.19,"tone":"sat"},{"text":"6","col":0,"row":15.125,"tone":"sat"}],
"titles":[{"text":"Birmingham Astronomical Society Observatory","col":10.14,"row":-4.4375,"tone":"main"},{"text":"Clear Sky Chart","col":48.71,"row":-4.4375,"tone":"brand"}],
"notes":[{"text":"(GMT -5+0)","col":-9.8,"row":-1.3125},{"text":"(GMT -5+0)","col":-9.8,"row":14.94}],
"logo":[{"text":"Environment","col":48.214,"row":19.625},{"text":"Canada","col":48.214,"row":20.09},{"text":"Environnement","col":52.93,"row":19.625},{"text":"Canada","col":52.93,"row":20.09}],
"leaf":[{"col":46.32,"row":19.84}],
"sidebars":[{"text":"— —","col":-9.607,"row":0.53,"tone":"sky"},{"text":"Sky","col":-9.607,"row":2,"tone":"sky"},{"text":"— —","col":-9.607,"row":3.656,"tone":"sky"},{"text":"—","col":-9.607,"row":6.906,"tone":"ground"},{"text":"Ground","col":-9.607,"row":8.53,"tone":"ground"},{"text":"—","col":-9.607,"row":10.22,"tone":"ground"},{"text":"Sky","col":-9.607,"row":16.78,"tone":"sky"}]
},
"encoding":{"x":{"field":"col","type":"quantitative","scale":{"domain":[-10,81.7143],"nice":false,"zero":false},"axis":null},"y":{"field":"row","type":"quantitative","scale":{"domain":[20.3125,-5.1875],"nice":false,"zero":false},"axis":null}},
"layer":[
{"data":{"name":"bands"},"mark":{"type":"rect"},"encoding":{"x2":{"field":"col2"},"y2":{"field":"row2"},"color":{"field":"part","type":"nominal","legend":null,"scale":{"domain":["sky","ground","flag","logo"],"range":["#0a5fe6","#566b0e","#ff0000","#ffffff"]}}}},
{"data":{"name":"cells"},"mark":{"type":"rect","width":12,"height":12},"encoding":{"color":{"field":"level","type":"nominal","legend":null,"scale":{"domain":["n0","n1","n2","n3","n4","n5","n6","t1","t2","t3","t4","t5","t6","g1","g2","w","W","d0","d1","d2","d3","d4","d5","r1","r2","r3","r4","r5","r6","y1","y2","g3","g4","c1"],"range":["#003f7f","#135596","#2c6cac","#3f7fbf","#4f8fcf","#5f9fdf","#6fafef","#7fbfbf","#8fcfcf","#9fdfdf","#a7e7e7","#afefef","#bfffff","#c3c3c3","#e9e9e9","#fbfbfb","#ffffff","#000050","#000060","#000a70","#000a80","#000098","#0008a8","#b90000","#e60000","#ff2400","#ff3c00","#ff5a00","#ff8c00","#ffc800","#e8ff14","#99ff66","#5affaa","#0affe6"]}}}},
{"data":{"name":"links"},"mark":{"type":"rect","width":2,"height":6},"encoding":{"color":{"field":"level","type":"nominal","legend":null,"scale":{"domain":["n0","n2","n5","g1","w","W"],"range":["#003f7f","#2c6cac","#5f9fdf","#c3c3c3","#fbfbfb","#ffffff"]}}}},
{"data":{"name":"twilight"},"mark":{"type":"rect","width":3,"height":12},"encoding":{"color":{"field":"dark","type":"quantitative","legend":null,"scale":{"domain":[0,1,2,3,4,5,6,7,8,9],"range":["#ffffff","#fff2e4","#ffe4c0","#ffc880","#ff9a20","#00d8ff","#00a0ff","#0060e0","#0838a8","#000090"],"interpolate":"rgb"}}}},
{"data":{"name":"midnights"},"mark":{"type":"rule","color":"#ff0000","strokeWidth":2},"encoding":{"y2":{"field":"row2"}}},
{"data":{"name":"leaf"},"mark":{"type":"point","filled":true,"color":"#ff0000","opacity":1,"size":144,"strokeWidth":0,"shape":"M0,-1L0.2,-0.6L0.4,-0.7L0.3,-0.2L0.6,-0.45L0.7,-0.25L1,-0.3L0.85,0.05L0.95,0.15L0.5,0.5L0.6,0.7L0.1,0.6L0.1,1L-0.1,1L-0.1,0.6L-0.6,0.7L-0.5,0.5L-0.95,0.15L-0.85,0.05L-1,-0.3L-0.7,-0.25L-0.6,-0.45L-0.3,-0.2L-0.4,-0.7L-0.2,-0.6Z"}},
{"data":{"name":"labels"},"mark":{"type":"text","font":"Liberation Mono","fontSize":15,"align":"left","baseline":"middle","dy":-1},"encoding":{"text":{"field":"text"},"color":{"field":"tone","type":"nominal","legend":null,"scale":{"domain":["wed","thu","fri","sat","local","white","dark","red"],"range":["#66ff66","#ffff00","#ff7070","#ff00ff","#c8c800","#ffffff","#c8c850","#ff0000"]}}}},
{"data":{"name":"hours"},"mark":{"type":"text","font":"Liberation Mono","fontSize":15,"align":"center","baseline":"middle","dy":-1},"encoding":{"text":{"field":"text"},"color":{"field":"tone","type":"nominal","legend":null,"scale":{"domain":["wed","thu","fri","sat"],"range":["#66ff66","#ffff00","#ff7070","#ff00ff"]}}}},
{"data":{"name":"titles"},"mark":{"type":"text","font":"Liberation Mono","fontSize":20,"fontWeight":"bold","align":"left","baseline":"middle"},"encoding":{"text":{"field":"text"},"color":{"field":"tone","type":"nominal","legend":null,"scale":{"domain":["main","brand"],"range":["#ffff00","#00c8c8"]}}}},
{"data":{"name":"notes"},"mark":{"type":"text","font":"Liberation Mono","fontSize":8,"fontWeight":"bold","align":"left","baseline":"middle","color":"#c8c800"},"encoding":{"text":{"field":"text"}}},
{"data":{"name":"logo"},"mark":{"type":"text","font":"Liberation Mono","fontSize":7.7,"align":"left","baseline":"middle","color":"#000000"},"encoding":{"text":{"field":"text"}}},
{"data":{"name":"sidebars"},"mark":{"type":"text","font":"DejaVu Sans Mono","fontSize":10,"align":"center","baseline":"middle","angle":270},"encoding":{"text":{"field":"text"},"color":{"field":"tone","type":"nominal","legend":null,"scale":{"domain":["sky","ground"],"range":["#ffff33","#ffffff"]}}}}
],
"resolve":{"scale":{"color":"independent"}}}
